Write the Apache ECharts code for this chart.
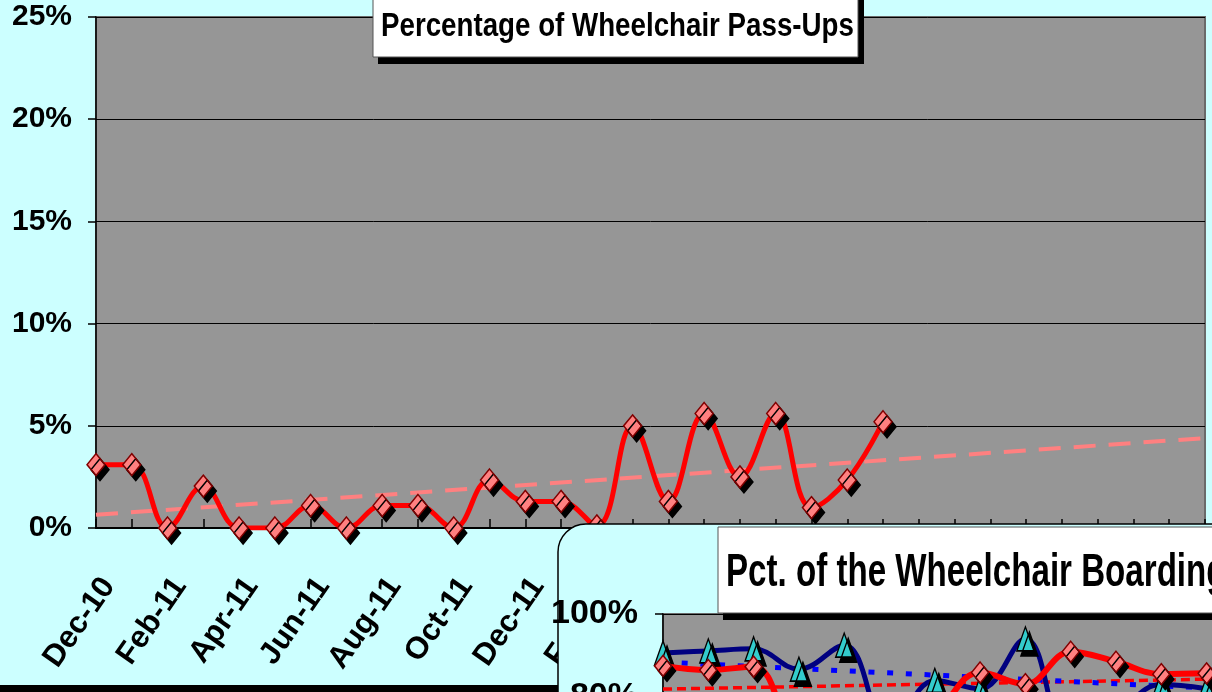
<!DOCTYPE html>
<html>
<head>
<meta charset="utf-8">
<script src="https://cdn.jsdelivr.net/npm/echarts@6/dist/echarts.min.js"></script>
<style>
html,body{margin:0;padding:0;background:#CCFFFF;}
#chart{width:1212px;height:692px;}
</style>
</head>
<body>
<div id="chart"></div>
<script>
// ---- Main chart data: Percentage of Wheelchair Pass-Ups ----
const months = ['Dec-10','Jan-11','Feb-11','Mar-11','Apr-11','May-11','Jun-11','Jul-11','Aug-11','Sep-11','Oct-11','Nov-11',
  'Dec-11','Jan-12','Feb-12','Mar-12','Apr-12','May-12','Jun-12','Jul-12','Aug-12','Sep-12','Oct-12','Nov-12',
  'Dec-12','Jan-13','Feb-13','Mar-13','Apr-13','May-13','Jun-13','Jul-13'];
const passUpPct = [3.1, 3.1, 0, 2.05, 0, 0, 1.1, 0, 1.1, 1.1, 0, 2.35,
  1.3, 1.3, 0.1, 5.0, 1.3, 5.6, 2.5, 5.6, 1.0, 2.35, 5.2];
const passUpTrendEnds = [0.65, 4.4];   // linear trend at first and last month
const mainTitle = 'Percentage of Wheelchair Pass-Ups';

// ---- Inset chart data: Pct. of the Wheelchair Boarding ----
const insetTitle = 'Pct. of the Wheelchair Boarding';
const insetMonths = months.slice(0, 16);
const insetNavy = [90.6, 91.1, 91.6, 86.7, 92.5, 72, 84, 82, 94, 70, 76, 83, 82];
const insetRed  = [87.5, 86.5, 87.3, 70, 68, 70, 76, 85.9, 83.1, 90.9, 88.5, 85.5, 85.7];
const insetBlueTrendEnds = [88.4, 80.6];
const insetRedTrendEnds  = [81.9, 84.9];

function endsSeries(n, ends) {
  const arr = new Array(n).fill(null);
  arr[0] = ends[0]; arr[n - 1] = ends[1];
  return arr;
}
function padTo(arr, n) {
  const out = arr.slice();
  while (out.length < n) out.push(null);
  return out;
}

const SANS = "'Liberation Sans',Arial,sans-serif";

const chart = echarts.init(document.getElementById('chart'), null, {renderer: 'canvas'});

const diamondStyle = {
  color: '#FF8080', borderColor: '#800000', borderWidth: 1.5,
  shadowColor: '#000', shadowBlur: 0, shadowOffsetX: 4, shadowOffsetY: 5
};
const triStyle = {
  color: '#33CCCC', borderColor: '#000', borderWidth: 1.5,
  shadowColor: '#000', shadowBlur: 0, shadowOffsetX: 4, shadowOffsetY: 5
};

const option = {
  backgroundColor: '#CCFFFF',
  animation: false,
  grid: [
    {left: 96, top: 17, width: 1109, height: 511, show: true, backgroundColor: '#969696',
      borderColor: '#6a6a6a', borderWidth: 2, z: 0, containLabel: false, outerBoundsMode: 'none'},
    {left: 663, top: 614, width: 15 * 45.3, height: 415, show: true, backgroundColor: '#969696',
      borderColor: '#6a6a6a', borderWidth: 2, z: 11, containLabel: false, outerBoundsMode: 'none'}
  ],
  xAxis: [
    {type: 'category', gridIndex: 0, data: months, boundaryGap: false,
      axisLine: {lineStyle: {color: '#000', width: 2}},
      axisTick: {show: true, inside: true, length: 9, interval: 0, lineStyle: {color: '#000', width: 1.5}},
      axisLabel: {interval: 1, rotate: 55, margin: 44, verticalAlign: 'top', color: '#000', fontFamily: SANS, fontWeight: 'bold', fontSize: 31},
      splitLine: {show: false}},
    {type: 'category', gridIndex: 1, data: insetMonths, boundaryGap: false, z: 12,
      axisLine: {lineStyle: {color: '#000', width: 2}},
      axisTick: {show: true, inside: true, length: 8, lineStyle: {color: '#000'}},
      axisLabel: {show: false}, splitLine: {show: false}}
  ],
  yAxis: [
    {type: 'value', gridIndex: 0, min: 0, max: 25, interval: 5,
      axisLine: {show: true, lineStyle: {color: '#000', width: 1.5}},
      axisTick: {show: true, length: 8, lineStyle: {color: '#000', width: 1.5}},
      axisLabel: {formatter: '{value}%', margin: 24, color: '#000', fontFamily: SANS, fontWeight: 'bold', fontSize: 30},
      splitLine: {show: true, lineStyle: {color: '#000', width: 1}}},
    {type: 'value', gridIndex: 1, min: 0, max: 100, interval: 20, z: 12,
      axisLine: {show: true, lineStyle: {color: '#000', width: 1.5}},
      axisTick: {show: true, length: 8, lineStyle: {color: '#000', width: 1.5}},
      axisLabel: {formatter: '{value}%', margin: 25, color: '#000', fontFamily: SANS, fontWeight: 'bold', fontSize: 34},
      splitLine: {show: true, lineStyle: {color: '#000', width: 1}}}
  ],
  series: [
    {type: 'line', name: 'Trend', xAxisIndex: 0, yAxisIndex: 0, z: 2,
      data: endsSeries(months.length, passUpTrendEnds), connectNulls: true, symbol: 'none',
      lineStyle: {color: '#FF8080', width: 4, type: [22, 13]}},
    {type: 'line', name: 'Pass-Ups', xAxisIndex: 0, yAxisIndex: 0, z: 3,
      data: padTo(passUpPct, months.length), smooth: 0.4,
      symbol: 'diamond', symbolSize: [18, 22], showAllSymbol: true,
      lineStyle: {color: '#FF0000', width: 5},
      itemStyle: diamondStyle},
    {type: 'line', name: 'Red trend', xAxisIndex: 1, yAxisIndex: 1, z: 13,
      data: endsSeries(insetMonths.length, insetRedTrendEnds), connectNulls: true, symbol: 'none',
      lineStyle: {color: '#FF0000', width: 3.5, type: [9, 5]}},
    {type: 'line', name: 'Blue trend', xAxisIndex: 1, yAxisIndex: 1, z: 13,
      data: endsSeries(insetMonths.length, insetBlueTrendEnds), connectNulls: true, symbol: 'none',
      lineStyle: {color: '#0000FF', width: 5, type: [6, 12.7]}},
    {type: 'line', name: 'Navy', xAxisIndex: 1, yAxisIndex: 1, z: 14,
      data: padTo(insetNavy, insetMonths.length), smooth: 0.4,
      symbol: 'triangle', symbolSize: [17, 24], showAllSymbol: true,
      lineStyle: {color: '#000080', width: 5},
      itemStyle: triStyle},
    {type: 'line', name: 'Red', xAxisIndex: 1, yAxisIndex: 1, z: 15,
      data: padTo(insetRed, insetMonths.length), smooth: 0.4,
      symbol: 'diamond', symbolSize: [17, 21], showAllSymbol: true,
      lineStyle: {color: '#FF0000', width: 6},
      itemStyle: diamondStyle}
  ],
  graphic: [
    {type: 'rect', z: 1, shape: {x: 0, y: 685, width: 1212, height: 7}, style: {fill: '#000'}},
    {type: 'rect', z: 20, shape: {x: 378, y: -5, width: 486, height: 69}, style: {fill: '#000'}},
    {type: 'rect', z: 21, shape: {x: 373, y: -5, width: 485, height: 62}, style: {fill: '#fff', stroke: '#555', lineWidth: 1}},
    {type: 'text', z: 22, x: 381, y: 27, scaleX: 0.84,
      style: {text: mainTitle, x: 0, y: 0, fill: '#000', font: "bold 33px " + SANS, textAlign: 'left', textVerticalAlign: 'middle'}},
    {type: 'rect', z: 10, shape: {x: 558, y: 524, width: 700, height: 220, r: [28, 0, 0, 0]},
      style: {fill: '#CCFFFF', stroke: '#000', lineWidth: 1.5}},
    {type: 'rect', z: 20, shape: {x: 723, y: 533, width: 520, height: 87}, style: {fill: '#000'}},
    {type: 'rect', z: 21, shape: {x: 718, y: 527, width: 520, height: 86}, style: {fill: '#fff', stroke: '#555', lineWidth: 1}},
    {type: 'text', z: 22, x: 726, y: 573, scaleX: 0.72,
      style: {text: insetTitle, x: 0, y: 0, fill: '#000', font: "bold 46px " + SANS, textAlign: 'left', textVerticalAlign: 'middle'}}
  ]
};
chart.setOption(option);
</script>
</body>
</html>
